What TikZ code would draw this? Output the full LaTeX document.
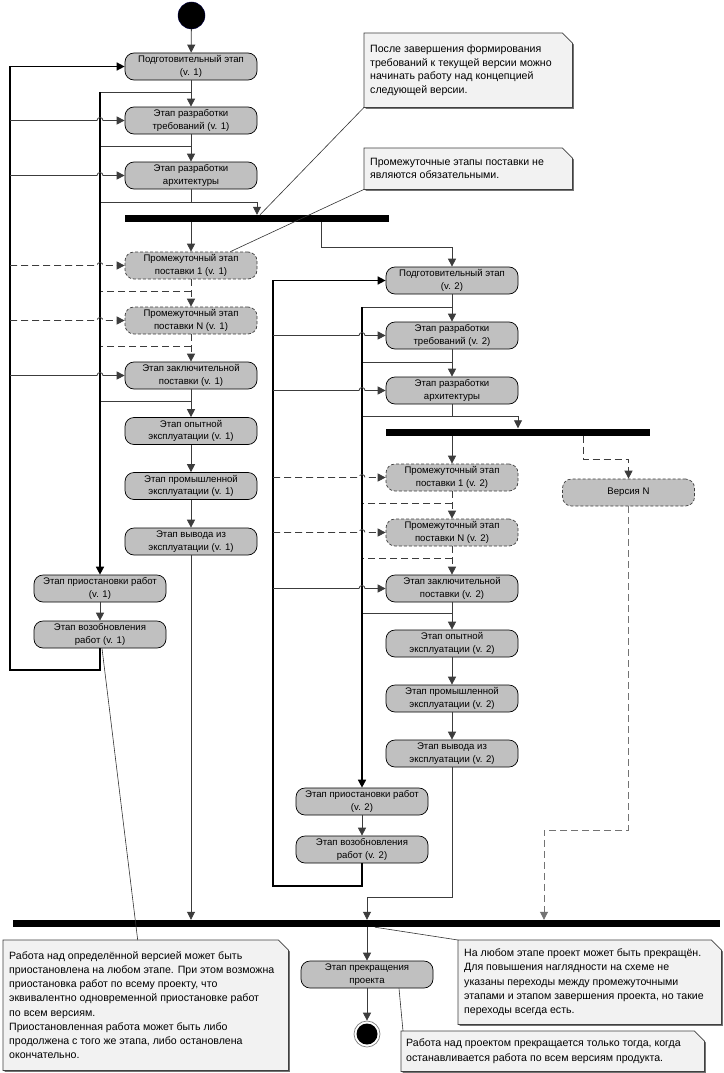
\documentclass[tikz,border=0pt]{standalone}
\usepackage{fontspec}
\setmainfont{Liberation Sans}
\usetikzlibrary{arrows.meta,calc}
\definecolor{actfill}{RGB}{192,192,192}
\definecolor{notefill}{RGB}{242,242,242}
\definecolor{notedraw}{RGB}{64,64,64}
\definecolor{lngray}{RGB}{60,60,60}
\newcommand\notefold[1]{%
  \fill[black!55] ($(#1.north east)+(1.5,11.5)$) -- ($(#1.south east)+(1.5,1.5)$) -- ($(#1.south west)+(1.5,1.5)$) -- ($(#1.south west)+(1.5,0)$) -- ($(#1.south east)+(0,0)$) -- ($(#1.north east)+(0,10)$) -- cycle;
  \filldraw[fill=notefill, draw=notedraw, line width=0.8pt] (#1.north west) -- ($(#1.north east)+(-10,0)$) -- ($(#1.north east)+(0,10)$) -- (#1.south east) -- (#1.south west) -- cycle;}
\begin{document}
\begin{tikzpicture}[x=1pt,y=-1pt,
  >={Triangle[length=8pt,width=8pt]},
  every node/.style={font=\fontsize{9.6}{12.5}\selectfont},
  act/.style={draw=black, line width=0.7pt, fill=actfill, rounded corners=9pt, minimum width=132pt, minimum height=27pt, align=center, inner sep=1pt},
  actd/.style={act, draw=black!75, dash pattern=on 3pt off 2pt},
  bar/.style={fill=black, draw=none, minimum height=7pt, inner sep=0pt},
  ln/.style={draw=lngray, line width=0.8pt},
  lnd/.style={draw=lngray, line width=0.8pt, dash pattern=on 7pt off 4pt},
  lndg/.style={draw=black!55, line width=0.8pt, dash pattern=on 7pt off 4pt},
  bus/.style={draw=black, line width=1.6pt},
  nl/.style={draw=black!80, line width=0.6pt},
  notebox/.style={draw=none, anchor=north west, inner sep=0pt},
  notetext/.style={anchor=west, align=left, inner sep=0pt, font=\fontsize{10.6}{14.2}\selectfont}
]
\useasboundingbox (0,0) rectangle (723,1073);
\fill[white] (0,0) rectangle (723,1073);

% ---------------- version 1 ----------------
\node[circle, fill=black, draw=blue!30!black, minimum size=27pt, inner sep=0pt] (start) at (191.5,15.5) {};
\node[act] (v1a) at (191,66.5) {Подготовительный этап\\(v. 1)};
\node[act] (v1b) at (191,120.5) {Этап разработки\\требований (v. 1)};
\node[act] (v1c) at (191,175.5) {Этап разработки\\архитектуры};
\node[bar, minimum width=264pt] (bar1) at (257,218.5) {};
\node[actd] (v1d) at (191,265.5) {Промежуточный этап\\поставки 1 (v. 1)};
\node[actd] (v1e) at (191,320.5) {Промежуточный этап\\поставки N (v. 1)};
\node[act] (v1f) at (191,375.5) {Этап заключительной\\поставки (v. 1)};
\node[act] (v1g) at (191,431) {Этап опытной\\эксплуатации (v. 1)};
\node[act] (v1h) at (191,486) {Этап промышленной\\эксплуатации (v. 1)};
\node[act] (v1i) at (191,541.5) {Этап вывода из\\эксплуатации (v. 1)};
\node[act] (v1j) at (100,588.5) {Этап приостановки работ\\(v. 1)};
\node[act] (v1k) at (100,634.5) {Этап возобновления\\работ (v. 1)};

% ---------------- version 2 ----------------
\node[act] (v2a) at (452,280.5) {Подготовительный этап\\(v. 2)};
\node[act] (v2b) at (452,335.5) {Этап разработки\\требований (v. 2)};
\node[act] (v2c) at (452,390.5) {Этап разработки\\архитектуры};
\node[bar, minimum width=264pt] (bar2) at (518,432) {};
\node[actd] (v2d) at (452,477.5) {Промежуточный этап\\поставки 1 (v. 2)};
\node[actd] (v2e) at (452,532.5) {Промежуточный этап\\поставки N (v. 2)};
\node[act] (v2f) at (452,588.5) {Этап заключительной\\поставки (v. 2)};
\node[act] (v2g) at (452,643.5) {Этап опытной\\эксплуатации (v. 2)};
\node[act] (v2h) at (452,698.5) {Этап промышленной\\эксплуатации (v. 2)};
\node[act] (v2i) at (452,753.5) {Этап вывода из\\эксплуатации (v. 2)};
\node[act] (v2j) at (362,801.5) {Этап приостановки работ\\(v. 2)};
\node[act] (v2k) at (362,849.5) {Этап возобновления\\работ (v. 2)};
\node[actd] (vN) at (628.5,492.5) {Версия N};

% ---------------- end ----------------
\node[bar, minimum width=707pt] (bar3) at (366.5,923.5) {};
\node[act] (stop) at (367,974.5) {Этап прекращения\\проекта};
\node[circle, draw=gray, fill=white, line width=0.7pt, minimum size=26pt, inner sep=0pt] (end) at (367,1034) {};
\fill[black] (end.center) circle[radius=10.5pt];

% ---------------- connectors v1 ----------------
\draw[ln,->] (start) -- (v1a);
\draw[ln,->] (v1a) -- (v1b);
\draw[ln,->] (v1b) -- (v1c);
\coordinate (p1) at (100,92);
\coordinate (p2) at (100,146);
\coordinate (p3) at (100,202);
\coordinate (p4) at (100,291);
\coordinate (p5) at (100,346);
\coordinate (p6) at (100,401);
\draw[ln] (v1a.south |- p1) -- (p1);
\draw[ln] (v1b.south |- p2) -- (p2);
\draw[ln] (v1c.south) -- (v1c.south |- p3);
\draw[ln,->] (p3) -| (bar1.north);
\draw[lnd] (v1d.south |- p4) -- (p4);
\draw[lnd] (v1e.south |- p5) -- (p5);
\draw[ln] (v1f.south |- p6) -- (p6);
\draw[bus,->] (p1) -- (v1j.north);
\draw[ln,->] (bar1.south -| v1d.north) -- (v1d.north);
\draw[lnd,->] (v1d) -- (v1e);
\draw[lnd,->] (v1e) -- (v1f);
\draw[ln,->] (v1f) -- (v1g);
\draw[ln,->] (v1g) -- (v1h);
\draw[ln,->] (v1h) -- (v1i);
\draw[ln,->] (v1j) -- (v1k);
\draw[ln,->] (v1i.south) -- (v1i.south |- bar3.north);
\coordinate (q1) at (100,670);
\coordinate (q0) at (10,670);
\draw[bus,->] (v1k.south) -- (q1) -- (q0) |- (v1a.west);
\draw[ln,->] (q0 |- v1b.west) -- ++(87,0) arc[start angle=180,end angle=0,radius=3pt] -- (v1b.west);
\draw[ln,->] (q0 |- v1c.west) -- ++(87,0) arc[start angle=180,end angle=0,radius=3pt] -- (v1c.west);
\draw[lnd,->] (q0 |- v1d.west) -- ++(87,0) arc[start angle=180,end angle=0,radius=3pt] -- (v1d.west);
\draw[lnd,->] (q0 |- v1e.west) -- ++(87,0) arc[start angle=180,end angle=0,radius=3pt] -- (v1e.west);
\draw[ln,->] (q0 |- v1f.west) -- ++(87,0) arc[start angle=180,end angle=0,radius=3pt] -- (v1f.west);

% ---------------- connectors v2 ----------------
\coordinate (c1) at (321,247);
\draw[ln,->] (bar1.south -| c1) -- (c1) -| (v2a.north);
\draw[ln,->] (v2a) -- (v2b);
\draw[ln,->] (v2b) -- (v2c);
\coordinate (r1) at (362,307);
\coordinate (r2) at (362,362);
\coordinate (r3) at (362,416);
\coordinate (r4) at (362,503);
\coordinate (r5) at (362,558);
\coordinate (r6) at (362,613);
\draw[ln] (v2a.south |- r1) -- (r1);
\draw[ln] (v2b.south |- r2) -- (r2);
\draw[ln] (v2c.south) -- (v2c.south |- r3);
\draw[ln,->] (r3) -| (bar2.north);
\draw[lnd] (v2d.south |- r4) -- (r4);
\draw[lnd] (v2e.south |- r5) -- (r5);
\draw[ln] (v2f.south |- r6) -- (r6);
\draw[bus,->] (r1) -- (v2j.north);
\draw[ln,->] (bar2.south -| v2d.north) -- (v2d.north);
\draw[lnd,->] (v2d) -- (v2e);
\draw[lnd,->] (v2e) -- (v2f);
\draw[ln,->] (v2f) -- (v2g);
\draw[ln,->] (v2g) -- (v2h);
\draw[ln,->] (v2h) -- (v2i);
\draw[ln,->] (v2j) -- (v2k);
\coordinate (c3) at (367,897);
\draw[ln,->] (v2i.south) |- (c3) -- (c3 |- bar3.north);
\coordinate (s1) at (362,886);
\coordinate (s0) at (273,886);
\draw[bus,->] (v2k.south) -- (s1) -- (s0) |- (v2a.west);
\draw[ln,->] (s0 |- v2b.west) -- ++(86,0) arc[start angle=180,end angle=0,radius=3pt] -- (v2b.west);
\draw[ln,->] (s0 |- v2c.west) -- ++(86,0) arc[start angle=180,end angle=0,radius=3pt] -- (v2c.west);
\draw[lnd,->] (s0 |- v2d.west) -- ++(86,0) arc[start angle=180,end angle=0,radius=3pt] -- (v2d.west);
\draw[lnd,->] (s0 |- v2e.west) -- ++(86,0) arc[start angle=180,end angle=0,radius=3pt] -- (v2e.west);
\draw[ln,->] (s0 |- v2f.west) -- ++(86,0) arc[start angle=180,end angle=0,radius=3pt] -- (v2f.west);
\coordinate (c4) at (583,459);
\draw[lnd,->] (bar2.south -| c4) -- (c4) -| (vN.north);
\coordinate (c5) at (544,830);
\draw[lndg,->] (vN.south) |- (c5) -- (c5 |- bar3.north);
\draw[ln,->] (bar3.south -| stop.north) -- (stop.north);
\draw[ln,->] (stop) -- (end);

% ---------------- notes ----------------
\node[notebox, minimum width=208pt, minimum height=74pt] (nA) at (364,33) {};
\notefold{nA}
\node[notetext, font=\fontsize{10.6}{13.4}\selectfont] (nAt) at ($(nA.west)+(6,0)$) {После завершения формирования\\требований к текущей версии можно\\начинать работу над концепцией\\следующей версии.};
\node[notebox, minimum width=208pt, minimum height=41pt] (nB) at (364,148) {};
\notefold{nB}
\node[notetext, font=\fontsize{10.6}{13.4}\selectfont] (nBt) at ($(nB.west)+(6,0)$) {Промежуточные этапы поставки не\\являются обязательными.};
\node[notebox, minimum width=285pt, minimum height=130pt] (nC) at (3,940) {};
\notefold{nC}
\node[notetext] (nCt) at ($(nC.west)+(6,0)$) {Работа над определённой версией может быть\\приостановлена на любом этапе. При этом возможна\\приостановка работ по всему проекту, что\\эквивалентно одновременной приостановке работ\\по всем версиям.\\Приостановленная работа может быть либо\\продолжена с того же этапа, либо остановлена\\окончательно.};
\node[notebox, minimum width=263pt, minimum height=84pt] (nD) at (458,940) {};
\notefold{nD}
\node[notetext] (nDt) at ($(nD.west)+(6,0)$) {На любом этапе проект может быть прекращён.\\Для повышения наглядности на схеме не\\указаны переходы между промежуточными\\этапами и этапом завершения проекта, но такие\\переходы всегда есть.};
\node[notebox, minimum width=303pt, minimum height=40pt] (nE) at (401,1031) {};
\notefold{nE}
\node[notetext] (nEt) at ($(nE.west)+(5,0)$) {Работа над проектом прекращается только тогда, когда\\останавливается работа по всем версиям продукта.};

\draw[nl] (nA.south west) -- ([xshift=3pt]bar1.north);
\draw[nl] (nB.south west) -- ([xshift=-27pt]v1d.north east);
\draw[nl] ([xshift=2pt]v1k.south) -- ([xshift=-8pt]nC.north);
\draw[nl] (bar3.south -| 375,0) -- (nD.north west);
\draw[nl] ([xshift=32pt]stop.south) -- ([xshift=2pt]nE.north west);
\end{tikzpicture}
\end{document}
